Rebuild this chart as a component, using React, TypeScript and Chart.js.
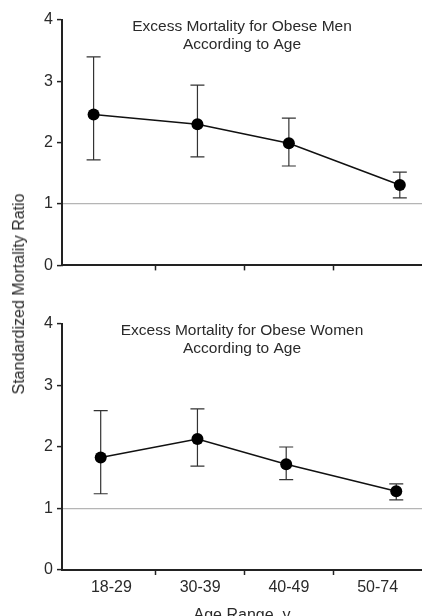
import React, { useEffect, useRef } from "react";
import { Chart, registerables } from "chart.js";

Chart.register(...registerables);

const FONT = "'Liberation Sans', Arial, Helvetica, sans-serif";
const TEXT = "#2a2a2a";
const AXIS = "#222";

const ageLabels = ["18-29", "30-39", "40-49", "50-74"];
const yTicks = [0, 1, 2, 3, 4];

// position of each group's point along the age axis (category index units)
const menAgePos = [-0.2, 0.97, 2.0, 3.25];
const menSMR = [2.46, 2.3, 1.99, 1.31];
const menLower = [1.72, 1.77, 1.62, 1.1];
const menUpper = [3.4, 2.94, 2.4, 1.52];

const womenAgePos = [-0.12, 0.97, 1.97, 3.21];
const womenSMR = [1.83, 2.13, 1.72, 1.28];
const womenLower = [1.24, 1.69, 1.47, 1.14];
const womenUpper = [2.59, 2.62, 2.0, 1.4];

const menTitle = ["Excess Mortality for Obese Men", "According to Age"];
const womenTitle = ["Excess Mortality for Obese Women", "According to Age"];

type PanelProps = {
  title: string[];
  pos: number[];
  smr: number[];
  lower: number[];
  upper: number[];
  showXLabels: boolean;
  top: number;
  height: number;
  padTop: number;
  xAxisHeight: number;
};

function Panel(props: PanelProps) {
  const ref = useRef<HTMLCanvasElement | null>(null);
  useEffect(() => {
    const { title, pos, smr, lower, upper, showXLabels, padTop, xAxisHeight } = props;
    const errorBars = {
      id: "errorBars",
      beforeDatasetsDraw(chart: any) {
        const { ctx, scales } = chart;
        const x = scales.x;
        const y = scales.y;
        ctx.save();
        ctx.strokeStyle = "#333";
        ctx.lineWidth = 1.2;
        pos.forEach((p, i) => {
          const px = x.getPixelForValue(p);
          const t = y.getPixelForValue(upper[i]);
          const b = y.getPixelForValue(lower[i]);
          ctx.beginPath();
          ctx.moveTo(px, t);
          ctx.lineTo(px, b);
          ctx.moveTo(px - 7, t);
          ctx.lineTo(px + 7, t);
          ctx.moveTo(px - 7, b);
          ctx.lineTo(px + 7, b);
          ctx.stroke();
        });
        ctx.restore();
      },
    };
    const panelTitle = {
      id: "panelTitle",
      afterDraw(chart: any) {
        const { ctx, chartArea } = chart;
        ctx.save();
        ctx.font = `15.5px ${FONT}`;
        ctx.fillStyle = TEXT;
        ctx.textAlign = "center";
        ctx.textBaseline = "middle";
        const cx = (chartArea.left + chartArea.right) / 2;
        title.forEach((line, i) => ctx.fillText(line, cx, chartArea.top + 7 + i * 17.5));
        ctx.restore();
      },
    };
    const chart = new Chart(ref.current as HTMLCanvasElement, {
      type: "line",
      data: {
        datasets: [
          {
            data: pos.map((p, i) => ({ x: p, y: smr[i] })),
            borderColor: "#111",
            borderWidth: 1.5,
            pointRadius: 6,
            pointBackgroundColor: "#000",
            pointBorderWidth: 0,
            tension: 0,
          },
        ],
      },
      options: {
        animation: false,
        responsive: true,
        maintainAspectRatio: false,
        layout: { autoPadding: false, padding: { top: padTop, left: 0, right: 0, bottom: 0 } },
        plugins: { legend: { display: false }, tooltip: { enabled: false }, title: { display: false } },
        scales: {
          x: {
            type: "linear",
            min: -0.556,
            max: 3.5,
            afterBuildTicks: (scale: any) => {
              scale.ticks = ageLabels.map((_, i) => ({ value: i }));
            },
            afterFit: (scale: any) => {
              scale.height = xAxisHeight;
            },
            ticks: {
              display: showXLabels,
              callback: (v: any) => ageLabels[v] ?? "",
              font: { family: FONT, size: 16 },
              color: TEXT,
              padding: 3,
              maxRotation: 0,
              autoSkip: false,
            },
            grid: {
              display: true,
              offset: true,
              drawOnChartArea: false,
              drawTicks: true,
              tickLength: 5,
              tickWidth: 1.5,
              tickColor: (ctx: any) =>
                ctx.index !== undefined && ctx.index >= 1 && ctx.index <= 3 ? AXIS : "rgba(0,0,0,0)",
            },
            border: { display: true, color: AXIS, width: 2 },
            title: {
              display: showXLabels,
              text: "Age Range, y",
              font: { family: FONT, size: 16 },
              color: TEXT,
              padding: { top: 0, bottom: 0 },
            },
          },
          y: {
            min: 0,
            max: 4,
            afterBuildTicks: (scale: any) => {
              scale.ticks = yTicks.map((v) => ({ value: v }));
            },
            afterFit: (scale: any) => {
              scale.width = 62;
            },
            ticks: {
              font: { family: FONT, size: 16 },
              color: TEXT,
              padding: 4,
            },
            grid: {
              drawOnChartArea: true,
              color: (ctx: any) => (ctx.tick && ctx.tick.value === 1 ? "#b5b5b5" : "rgba(0,0,0,0)"),
              lineWidth: 1.2,
              tickColor: AXIS,
              tickLength: 5,
              tickWidth: 1.5,
            },
            border: { display: true, color: AXIS, width: 2 },
          },
        },
      },
      plugins: [errorBars, panelTitle],
    } as any);
    return () => chart.destroy();
  }, []);
  return (
    <div style={{ position: "absolute", left: 0, top: props.top, width: 422, height: props.height }}>
      <canvas ref={ref} />
    </div>
  );
}

export default function App() {
  return (
    <div
      style={{
        position: "absolute",
        left: 0,
        top: 0,
        width: 422,
        height: 616,
        overflow: "hidden",
        background: "#fff",
      }}
    >
      <Panel
        title={menTitle}
        pos={menAgePos}
        smr={menSMR}
        lower={menLower}
        upper={menUpper}
        showXLabels={false}
        top={0}
        height={279}
        padTop={20}
        xAxisHeight={12}
      />
      <Panel
        title={womenTitle}
        pos={womenAgePos}
        smr={womenSMR}
        lower={womenLower}
        upper={womenUpper}
        showXLabels={true}
        top={300}
        height={325}
        padTop={24}
        xAxisHeight={55}
      />
      <div
        style={{
          position: "absolute",
          left: 19,
          top: 294,
          transform: "translate(-50%, -50%) rotate(-90deg)",
          whiteSpace: "nowrap",
          fontFamily: FONT,
          fontSize: 16,
          color: TEXT,
        }}
      >
        Standardized Mortality Ratio
      </div>
    </div>
  );
}
